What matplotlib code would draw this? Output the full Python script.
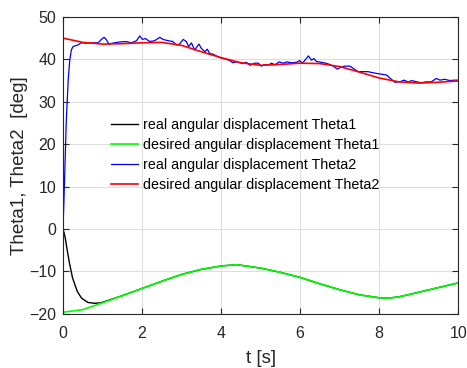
import numpy as np
import matplotlib
matplotlib.use("Agg")
from matplotlib import pyplot as plt

# desired angular displacement Theta2 (red)
t_des2 = [0, 0.5, 1.0, 1.5, 2.0, 2.5, 3.0, 3.5, 4.0, 4.5, 5.0, 5.5, 6.0, 6.5,
          7.0, 7.5, 8.0, 8.5, 9.0, 9.5, 10.0]
theta2_des = [45.0, 44.0, 43.6, 43.7, 43.9, 44.0, 43.3, 41.8, 40.4, 39.2, 38.6,
              38.8, 39.1, 39.0, 38.3, 37.0, 35.6, 34.7, 34.4, 34.6, 34.9]

# real angular displacement Theta2 (blue)
t_real2 = [0, 0.04, 0.08, 0.13, 0.17, 0.21, 0.25, 0.38, 0.46, 0.59, 0.76, 0.89,
           0.97, 1.04, 1.10, 1.16, 1.30, 1.44, 1.60, 1.73, 1.86, 1.94, 2.01,
           2.09, 2.19, 2.32, 2.45, 2.53, 2.66, 2.78, 2.87, 2.95, 3.04, 3.12,
           3.18, 3.25, 3.33, 3.44, 3.50, 3.59, 3.65, 3.71, 3.80, 3.88, 3.97,
           4.05, 4.14, 4.22, 4.30, 4.39, 4.47, 4.56, 4.64, 4.73, 4.85, 4.94,
           5.02, 5.11, 5.19, 5.28, 5.36, 5.47, 5.57, 5.67, 5.78, 5.91, 5.99,
           6.06, 6.14, 6.21, 6.29, 6.35, 6.41, 6.54, 6.65, 6.75, 6.84, 6.94,
           7.02, 7.13, 7.26, 7.34, 7.47, 7.60, 7.72, 7.81, 7.93, 8.06, 8.19,
           8.31, 8.40, 8.52, 8.64, 8.74, 8.82, 8.95, 9.07, 9.20, 9.32, 9.45,
           9.54, 9.66, 9.79, 9.92, 10.0]
theta2_real = [0.0, 12.0, 25.0, 35.1, 39.8, 42.2, 43.0, 43.4, 43.9, 43.8, 43.9,
               43.9, 44.7, 45.2, 44.6, 43.6, 43.9, 44.1, 44.2, 43.9, 44.4, 45.5,
               44.7, 44.9, 44.2, 44.4, 45.2, 44.7, 44.4, 44.2, 43.4, 43.6, 44.7,
               44.2, 43.0, 43.9, 42.2, 43.6, 42.6, 41.8, 42.4, 41.4, 41.2, 40.8,
               40.4, 40.2, 40.0, 39.7, 39.2, 39.4, 39.2, 39.0, 39.3, 38.6, 39.1,
               39.1, 38.4, 38.8, 38.6, 39.1, 38.7, 39.4, 39.1, 39.4, 39.2, 39.3,
               39.7, 39.1, 40.0, 40.8, 39.8, 40.2, 39.5, 39.3, 39.1, 38.8, 38.4,
               37.7, 38.1, 38.4, 38.4, 37.9, 37.1, 37.1, 37.1, 36.9, 36.7, 36.5,
               36.3, 35.3, 34.6, 34.7, 35.1, 34.6, 35.0, 34.7, 34.5, 34.7, 34.7,
               35.5, 35.1, 35.3, 35.0, 35.1, 35.1]

# desired angular displacement Theta1 (green)
t_des1 = [0, 0.5, 1.0, 1.5, 2.0, 2.5, 3.0, 3.5, 4.0, 4.4, 5.0, 5.5, 6.0, 6.5,
          7.0, 7.5, 8.0, 8.2, 8.5, 9.0, 9.5, 10.0]
theta1_des = [-19.6, -19.0, -17.4, -15.7, -14.0, -12.3, -10.7, -9.5, -8.7, -8.4,
              -9.2, -10.2, -11.4, -12.9, -14.3, -15.5, -16.2, -16.3, -16.0,
              -14.9, -13.8, -12.7]

# real angular displacement Theta1 (black): transient, then on the desired curve
t_real1 = [0, 0.05, 0.09, 0.16, 0.24, 0.36, 0.47, 0.63, 0.80, 0.95, 1.05, 1.5,
           2.0, 2.5, 3.0, 3.5, 4.0, 4.4, 5.0, 5.5, 6.0, 6.5, 7.0, 7.5, 8.0,
           8.2, 8.5, 9.0, 9.5, 10.0]
theta1_real = [0.0, -1.8, -4.1, -7.9, -11.5, -14.7, -16.3, -17.3, -17.5, -17.4,
               -17.1, -15.7, -14.0, -12.3, -10.7, -9.5, -8.7, -8.4, -9.2, -10.2,
               -11.4, -12.9, -14.3, -15.5, -16.2, -16.3, -16.0, -14.9, -13.8,
               -12.7]

plt.rcParams['font.family'] = ['Liberation Sans', 'DejaVu Sans']
fig = plt.figure(figsize=(4.67, 3.68), dpi=100)
ax = fig.add_axes([0.135, 0.147, 0.846, 0.807])

ax.plot(t_real1, theta1_real, color='black', lw=1.0,
        label='real angular displacement Theta1')
ax.plot(t_des1, theta1_des, color=(0, 1, 0), lw=1.2,
        label='desired angular displacement Theta1')
ax.plot(t_real2, theta2_real, color='blue', lw=0.9,
        label='real angular displacement Theta2')
ax.plot(t_des2, theta2_des, color='red', lw=1.2,
        label='desired angular displacement Theta2')

ax.set_xlim(0, 10)
ax.set_ylim(-20, 50)
ax.set_xticks([0, 2, 4, 6, 8, 10])
ax.set_yticks([-20, -10, 0, 10, 20, 30, 40, 50])
ax.grid(True, color='0.87', lw=0.8)
ax.set_axisbelow(True)
ax.tick_params(direction='in', top=True, right=True, length=4,
               labelsize=11.5, colors='0.15')
ax.tick_params(axis='x', pad=9)
ax.tick_params(axis='y', pad=5)
for s in ax.spines.values():
    s.set_color('0.15')
    s.set_linewidth(0.8)

ax.set_xlabel('t [s]', fontsize=13.5, color='0.15', labelpad=6)
ax.set_ylabel('Theta1, Theta2  [deg]', fontsize=13.5, color='0.15', labelpad=1)

ax.legend(loc='upper left', bbox_to_anchor=(0.122, 0.66), frameon=False,
          fontsize=10.3, handlelength=1.9, handletextpad=0.3, labelspacing=0.42,
          borderpad=0, borderaxespad=0)

fig.savefig('out.png', dpi=100)
